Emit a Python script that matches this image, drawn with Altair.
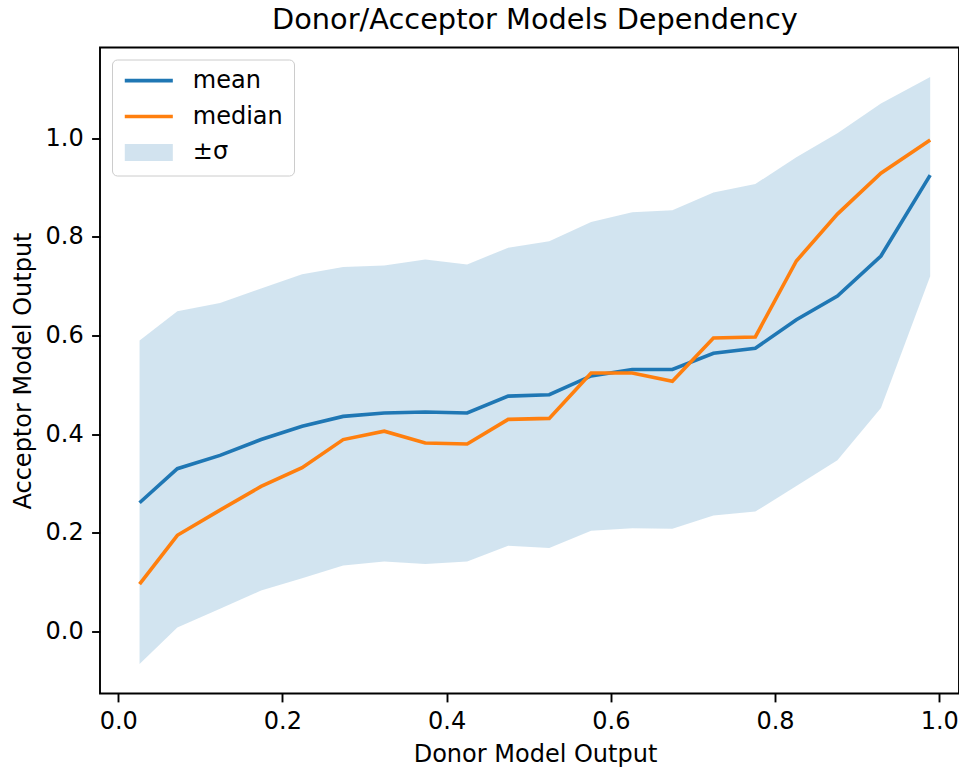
import altair as alt
import pandas as pd

# ---- data ----
donor = [0.026, 0.072, 0.124, 0.174, 0.224, 0.274, 0.324, 0.374, 0.425, 0.475,
         0.525, 0.576, 0.626, 0.675, 0.725, 0.776, 0.826, 0.876, 0.929, 0.989]
mean_vals = [0.261, 0.330, 0.357, 0.389, 0.416, 0.436, 0.443, 0.445, 0.443, 0.477,
             0.480, 0.518, 0.531, 0.531, 0.564, 0.574, 0.632, 0.680, 0.761, 0.925]
median_vals = [0.096, 0.195, 0.246, 0.294, 0.332, 0.389, 0.406, 0.382, 0.380, 0.430,
               0.432, 0.524, 0.524, 0.507, 0.595, 0.597, 0.751, 0.846, 0.929, 0.996]
upper_vals = [0.590, 0.649, 0.666, 0.695, 0.724, 0.739, 0.742, 0.754, 0.744, 0.778,
              0.791, 0.830, 0.850, 0.854, 0.890, 0.907, 0.961, 1.010, 1.070, 1.124]
lower_vals = [-0.066, 0.008, 0.046, 0.083, 0.108, 0.134, 0.142, 0.137, 0.142, 0.174,
              0.169, 0.204, 0.209, 0.208, 0.235, 0.243, 0.295, 0.347, 0.453, 0.720]
series_names = ["mean", "median", "±σ"]
series_colors = ["#1f77b4", "#ff7f0e", "#d2e3ef"]
series_widths = [3.6, 3.6, 17]
x_ticks = [0.0, 0.2, 0.4, 0.6, 0.8, 1.0]
y_ticks = [0.0, 0.2, 0.4, 0.6, 0.8, 1.0]

band_df = pd.DataFrame({"donor": donor, "lower": lower_vals, "upper": upper_vals})
line_df = pd.concat([
    pd.DataFrame({"donor": donor, "value": mean_vals, "series": "mean"}),
    pd.DataFrame({"donor": donor, "value": median_vals, "series": "median"}),
], ignore_index=True)

FONT = "DejaVu Sans"
x_scale = alt.Scale(domain=[-0.0222, 1.0241], nice=False, zero=False)
y_scale = alt.Scale(domain=[-0.1257, 1.1837], nice=False, zero=False)

x_axis = alt.Axis(values=x_ticks, format=".1f", title="Donor Model Output",
                  labelBaseline="alphabetic", labelPadding=27,
                  titleX=435, titleY=67.5, titleBaseline="alphabetic",
                  titleAnchor="start", titleAlign="center")
y_axis = alt.Axis(values=y_ticks, format=".1f", title="Acceptor Model Output",
                  labelPadding=8.4, titleX=-70, titleY=323,
                  titleBaseline="alphabetic", titleAlign="center", titleAnchor="start")

band = alt.Chart(band_df).mark_area(color="#1f77b4", opacity=0.2).encode(
    x=alt.X("donor:Q", scale=x_scale, axis=x_axis),
    y=alt.Y("lower:Q", scale=y_scale, axis=y_axis),
    y2="upper:Q",
)

legend = alt.Legend(
    orient="none", legendX=12, legendY=12, title=None,
    labelFontSize=24, labelFont=FONT, labelColor="black",
    symbolType="M-1.35,0H1.35", symbolSize=1267,
    labelOffset=17.5, padding=10.3, rowPadding=10.9, clipHeight=21.6,
    strokeColor="#cccccc", fillColor="rgba(255,255,255,0.8)", cornerRadius=5,
)

lines = alt.Chart(line_df).mark_line(strokeCap="butt").encode(
    x=alt.X("donor:Q", scale=x_scale),
    y=alt.Y("value:Q", scale=y_scale),
    color=alt.Color("series:N",
                    scale=alt.Scale(domain=series_names, range=series_colors),
                    legend=legend),
    strokeWidth=alt.StrokeWidth("series:N",
                                scale=alt.Scale(type="ordinal", domain=series_names,
                                                range=series_widths),
                                legend=legend),
)

chart = alt.layer(band, lines).properties(
    width=859, height=646,
    background="white",
    autosize=alt.AutoSizeParams(type="none"),
    padding={"left": 100, "top": 47.5, "right": 0, "bottom": 73.5},
    title=alt.TitleParams("Donor/Acceptor Models Dependency", fontSize=28.8, font=FONT,
                          fontWeight="normal", color="black", anchor="middle",
                          baseline="alphabetic", offset=-10.5, dx=5.5, frame="group"),
).configure_view(
    stroke="black", strokeWidth=1.9
).configure_axis(
    grid=False, domain=False, ticks=True, tickColor="black", tickWidth=1.9, tickSize=8.4,
    labelFont=FONT, labelFontSize=24, labelColor="black",
    titleFont=FONT, titleFontSize=24, titleFontWeight="normal", titleColor="black",
    labelFlush=False, labelOverlap=False,
)

chart.save("out.html", embed_options={"renderer": "svg", "actions": False})
